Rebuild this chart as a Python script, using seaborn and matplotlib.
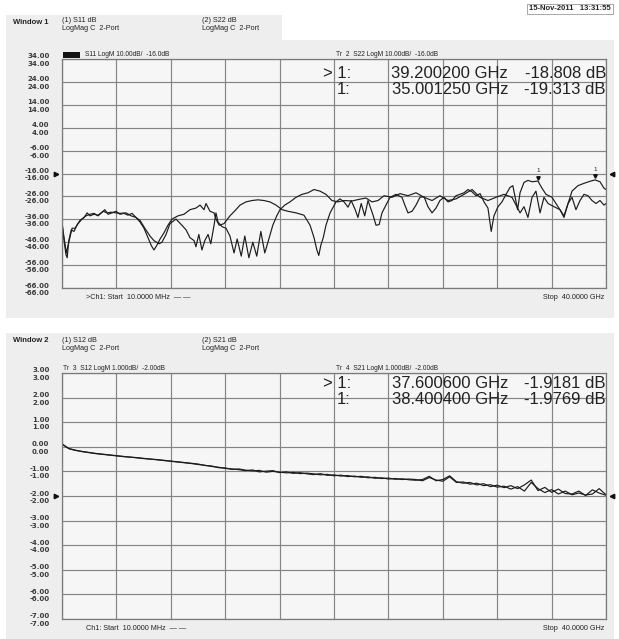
import numpy as np
import seaborn as sns
import matplotlib.pyplot as plt
from matplotlib.patches import Rectangle

# ---- Window 1: S11 / S22 (LogM 10 dB/div, ref -16 dB) ----
s11_ghz = [0.01, 0.15, 0.29, 0.38, 0.50, 0.68, 0.88, 1.09, 1.32, 1.62, 1.85, 2.06, 2.35, 2.65,
           2.94, 3.15, 3.38, 3.68, 3.97, 4.26, 4.56, 4.85, 5.15, 5.44, 5.74, 6.03, 6.32, 6.56,
           6.76, 6.97, 7.21, 7.50, 7.79, 8.09, 8.53, 8.97, 9.41, 9.85, 10.15, 10.44, 10.59,
           10.88, 11.18, 11.32, 11.56, 11.91, 12.35, 12.79, 13.09, 13.53, 13.97, 14.41, 14.85,
           15.29, 15.74, 16.18, 16.62, 17.21, 17.79, 18.24, 18.53, 18.74, 18.88, 19.03, 19.21,
           19.41, 19.71, 20.15, 20.44, 20.74, 21.03, 21.26, 21.56, 21.76, 22.00, 22.26, 22.50,
           22.85, 23.09, 23.32, 23.53, 23.82, 24.12, 24.56, 25.00, 25.21, 25.44, 25.74, 26.03,
           26.32, 26.62, 26.91, 27.21, 27.50, 27.79, 28.09, 28.38, 28.68, 28.97, 29.26, 29.56,
           29.85, 30.15, 30.44, 30.74, 31.03, 31.32, 31.56, 31.76, 32.06, 32.35, 32.65, 32.94,
           33.15, 33.32, 33.50, 33.68, 33.97, 34.26, 34.56, 35.00, 35.29, 35.59, 36.03, 36.47,
           36.91, 37.21, 37.50, 37.79, 38.09, 38.38, 38.68, 38.97, 39.26, 39.56, 39.85, 40.00]
s11_db = [-38.0, -45.3, -51.4, -52.8, -45.3, -40.6, -41.3, -38.6, -36.5, -35.2, -33.2, -34.5,
          -33.8, -34.2, -32.9, -31.8, -33.8, -33.2, -32.5, -33.8, -33.4, -34.2, -33.4, -35.2,
          -37.2, -39.9, -44.0, -47.4, -49.4, -47.4, -44.6, -41.9, -38.6, -35.9, -34.5, -33.8,
          -31.8, -31.1, -29.8, -31.8, -29.1, -32.5, -33.2, -35.9, -38.6, -37.9, -34.5, -31.8,
          -29.8, -28.4, -27.8, -27.5, -27.8, -28.4, -29.8, -31.8, -32.5, -33.2, -34.2, -38.6,
          -44.0, -49.4, -51.8, -47.4, -44.0, -38.6, -33.2, -28.4, -27.1, -28.4, -30.7, -27.8,
          -31.8, -35.2, -29.1, -34.5, -27.8, -33.8, -38.6, -38.3, -33.2, -29.8, -26.4, -25.1,
          -26.4, -29.8, -33.2, -32.5, -29.8, -26.4, -26.1, -30.5, -33.2, -31.1, -27.8, -26.4,
          -28.4, -27.8, -25.7, -25.1, -24.4, -23.0, -24.0, -25.7, -24.8, -28.4, -31.1, -41.3,
          -34.5, -30.5, -28.4, -25.1, -22.1, -21.3, -26.4, -31.8, -24.4, -19.9, -19.0, -19.6,
          -19.3, -22.4, -25.1, -26.4, -30.5, -34.5, -29.1, -26.4, -31.8, -27.8, -25.1, -25.7,
          -27.8, -29.1, -27.8, -29.8, -29.1]

s22_ghz = [0.01, 0.15, 0.32, 0.50, 0.74, 0.97, 1.18, 1.47, 1.76, 2.06, 2.35, 2.65, 3.03, 3.32,
           3.62, 3.97, 4.26, 4.71, 5.09, 5.44, 5.74, 6.09, 6.47, 6.76, 7.15, 7.35, 7.65, 7.94,
           8.38, 8.82, 9.12, 9.41, 9.71, 9.85, 10.06, 10.29, 10.50, 10.74, 10.94, 11.18, 11.32,
           11.47, 11.76, 12.06, 12.35, 12.65, 12.88, 13.18, 13.44, 13.74, 14.03, 14.32, 14.62,
           14.91, 15.21, 15.50, 15.79, 16.03, 16.38, 16.76, 17.21, 17.65, 18.09, 18.53, 18.97,
           19.41, 19.85, 20.29, 20.74, 21.32, 21.91, 22.35, 22.79, 23.24, 23.68, 24.26, 24.85,
           25.44, 26.03, 26.62, 27.21, 27.79, 28.38, 28.97, 29.56, 30.15, 30.74, 31.32, 31.91,
           32.50, 33.09, 33.68, 33.97, 34.26, 34.56, 34.85, 35.15, 35.44, 35.74, 36.18, 36.62,
           36.91, 37.21, 37.50, 37.94, 38.38, 38.82, 39.20, 39.56, 39.85, 40.00]
s22_db = [-38.0, -44.0, -50.7, -46.0, -39.9, -39.9, -37.9, -35.9, -34.5, -33.8, -33.4, -34.5,
          -32.5, -33.2, -32.9, -33.2, -33.4, -33.2, -34.5, -35.2, -36.5, -39.9, -43.3, -45.3,
          -46.7, -46.0, -42.6, -37.9, -35.9, -38.6, -40.6, -44.0, -45.3, -48.0, -42.6, -49.4,
          -45.3, -42.6, -46.7, -38.6, -33.2, -37.2, -39.2, -39.9, -43.3, -50.7, -44.6, -52.1,
          -43.3, -52.8, -46.0, -52.1, -41.3, -50.7, -44.6, -38.6, -34.5, -31.8, -29.8, -28.4,
          -26.4, -25.1, -24.4, -23.0, -23.7, -25.1, -27.8, -28.4, -27.8, -28.0, -27.2, -26.7,
          -28.4, -27.8, -25.7, -26.4, -24.8, -25.7, -24.4, -26.4, -27.8, -25.7, -27.8, -27.1,
          -25.1, -23.0, -26.4, -27.8, -26.4, -25.1, -26.4, -33.2, -30.5, -35.2, -26.4, -23.7,
          -33.2, -26.4, -29.1, -30.5, -31.8, -35.2, -29.1, -23.7, -21.3, -20.3, -19.4, -18.8,
          -19.6, -22.4, -23.0]

# ---- Window 2: S12 / S21 (LogM 1 dB/div, ref -2 dB), sweep 10 MHz .. 40 GHz ----
s21_db = [0.12, -0.08, -0.15, -0.20, -0.24, -0.28, -0.31, -0.34, -0.37, -0.40, -0.42, -0.45,
          -0.48, -0.50, -0.53, -0.56, -0.59, -0.62, -0.65, -0.68, -0.72, -0.75, -0.80, -0.83,
          -0.88, -0.90, -0.93, -0.97, -0.94, -1.02, -0.99, -0.97, -1.05, -1.02, -1.08, -1.05,
          -1.10, -1.13, -1.09, -1.16, -1.14, -1.19, -1.17, -1.22, -1.20, -1.26, -1.24, -1.29,
          -1.27, -1.32, -1.30, -1.34, -1.36, -1.33, -1.20, -1.38, -1.33, -1.18, -1.42, -1.48,
          -1.45, -1.55, -1.50, -1.62, -1.56, -1.66, -1.58, -1.70, -1.55, -1.35, -1.78, -1.65,
          -1.85, -1.72, -1.90, -1.92, -1.80, -1.98, -1.75, -1.88, -1.97]
s12_db = [0.10, -0.07, -0.14, -0.19, -0.23, -0.27, -0.30, -0.33, -0.36, -0.39, -0.42, -0.44,
          -0.47, -0.50, -0.52, -0.55, -0.58, -0.61, -0.64, -0.67, -0.70, -0.76, -0.78, -0.85,
          -0.86, -0.92, -0.90, -0.95, -0.98, -0.96, -1.03, -1.00, -1.03, -1.06, -1.04, -1.09,
          -1.07, -1.10, -1.14, -1.12, -1.18, -1.15, -1.21, -1.19, -1.24, -1.22, -1.28, -1.26,
          -1.31, -1.29, -1.33, -1.31, -1.33, -1.38, -1.25, -1.35, -1.40, -1.22, -1.45, -1.43,
          -1.52, -1.48, -1.58, -1.54, -1.64, -1.60, -1.72, -1.62, -1.80, -1.45, -1.70, -1.86,
          -1.74, -1.92, -1.80, -1.95, -1.88, -1.96, -1.92, -1.70, -1.95]
sweep_ghz = np.linspace(0.01, 40, len(s21_db))

top_ticks = [34, 24, 14, 4, -6, -16, -26, -36, -46, -56, -66]
bot_ticks = [3, 2, 1, 0, -1, -2, -3, -4, -5, -6, -7]
top_ref, bot_ref = -16, -2

# marker readouts
top_mk = [("> 1:", "39.200200 GHz", "-18.808 dB"), ("1:", "35.001250 GHz", "-19.313 dB")]
bot_mk = [("> 1:", "37.600600 GHz", "-1.9181 dB"), ("1:", "38.400400 GHz", "-1.9769 dB")]
top_mk_pts = [(39.2002, -18.808), (35.00125, -19.313)]

sns.set_theme(style="white")
plt.rcParams['font.family'] = ['Liberation Sans', 'DejaVu Sans']

W, H = 619, 639
fig = plt.figure(figsize=(W / 100, H / 100), dpi=100)
fig.patch.set_facecolor('white')


def fx(x):
    return x / W


def fy(y):
    return 1 - y / H


def txt(x, y, s, **kw):
    kw.setdefault('va', 'center')
    kw.setdefault('color', '#222222')
    fig.text(fx(x), fy(y), s, **kw)


def rect(x0, y0, x1, y1, c):
    fig.add_artist(Rectangle((fx(x0), fy(y1)), (x1 - x0) / W, (y1 - y0) / H,
                             transform=fig.transFigure, color=c, zorder=-5, lw=0))


# scanned panel backgrounds
panel = '#eeeeee'
rect(6, 15, 282, 42, panel)
rect(6, 40, 614, 318, panel)
rect(6, 333, 614, 639, panel)

# date stamp
txt(611, 9, "15-Nov-2011   13:31:55", ha='right', fontsize=5.5, fontweight='bold',
    bbox=dict(boxstyle='square,pad=0.25', fc='white', ec='#999999', lw=0.6))


def setup(ax, ticks):
    ax.set_facecolor('#f6f6f6')
    ax.set_xlim(0, 40)
    ax.set_ylim(ticks[-1], ticks[0])
    ax.set_xticks(np.arange(0, 41, 4))
    ax.set_xticklabels([])
    ax.set_yticks(ticks)
    ax.set_yticklabels([f"{t:.2f}\n{t:.2f}" for t in ticks])
    ax.grid(True, color='#858585', lw=0.85)
    ax.tick_params(length=0, pad=9, labelsize=5.0, labelcolor='#3a3a3a')
    for lab in ax.get_yticklabels():
        lab.set_family(['DejaVu Sans'])
        lab.set_fontweight('bold')
        lab.set_linespacing(1.3)
    for s in ax.spines.values():
        s.set_color('#7a7a7a')
        s.set_linewidth(0.9)


def ref_arrows(ax, ref):
    ax.plot([-0.45], [ref], marker='>', ms=3.2, color='#111111', clip_on=False)
    ax.plot([40.45], [ref], marker='<', ms=3.2, color='#111111', clip_on=False)


def window(hy, top, bot, name, p1, p2, hdr1, hdr2, mk, mky, ticks, ref, start):
    txt(13, hy + 1, name, fontsize=5.5, fontweight='bold')
    txt(62, hy, f"(1) {p1} dB", fontsize=5.2)
    txt(62, hy + 8, "LogMag C  2-Port", fontsize=5.2)
    txt(202, hy, f"(2) {p2} dB", fontsize=5.2)
    txt(202, hy + 8, "LogMag C  2-Port", fontsize=5.2)
    txt(hdr1[0], top - 4, hdr1[1], fontsize=4.8)
    txt(336, top - 4, hdr2, fontsize=4.8)
    for i, (a, f, d) in enumerate(mk):
        yy = mky + 16 * i
        txt(351, yy, a, ha='right', fontsize=12)
        txt(508, yy, f, ha='right', fontsize=12)
        txt(606, yy, d, ha='right', fontsize=12)
    txt(86, bot + 9, start, fontsize=5.2)
    txt(604, bot + 9, "Stop  40.0000 GHz", ha='right', fontsize=5.2)
    ax = fig.add_axes([fx(62), fy(bot), 544 / W, (bot - top) / H])
    setup(ax, ticks)
    ref_arrows(ax, ref)
    return ax


lc = '#1c1c1c'

ax1 = window(21, 59, 288, "Window 1", "S11", "S22", (85, "S11 LogM 10.00dB/  -16.0dB"),
             "Tr  2  S22 LogM 10.00dB/  -16.0dB", top_mk, 74, top_ticks, top_ref,
             ">Ch1: Start  10.0000 MHz  \u2014 \u2014")
rect(63, 52, 80, 58, '#111111')
sns.lineplot(x=s11_ghz, y=s11_db, ax=ax1, color=lc, lw=0.85, estimator=None, sort=False)
sns.lineplot(x=s22_ghz, y=s22_db, ax=ax1, color=lc, lw=0.85, estimator=None, sort=False)
for gx, gy in top_mk_pts:
    ax1.plot([gx], [gy + 1.5], marker='v', ms=2.5, color='#111111')
    ax1.text(gx, gy + 4.5, "1", fontsize=4.5, ha='center', va='center', color='#222222')

ax2 = window(340, 373, 619, "Window 2", "S12", "S21", (63, "Tr  3  S12 LogM 1.000dB/  -2.00dB"),
             "Tr  4  S21 LogM 1.000dB/  -2.00dB", bot_mk, 383, bot_ticks, bot_ref,
             "Ch1: Start  10.0000 MHz  \u2014 \u2014")
sns.lineplot(x=sweep_ghz, y=s12_db, ax=ax2, color=lc, lw=0.85, estimator=None, sort=False)
sns.lineplot(x=sweep_ghz, y=s21_db, ax=ax2, color=lc, lw=0.85, estimator=None, sort=False)

for ax in (ax1, ax2):
    ax.set_xlabel("")
    ax.set_ylabel("")

fig.savefig("out.png", dpi=100)
